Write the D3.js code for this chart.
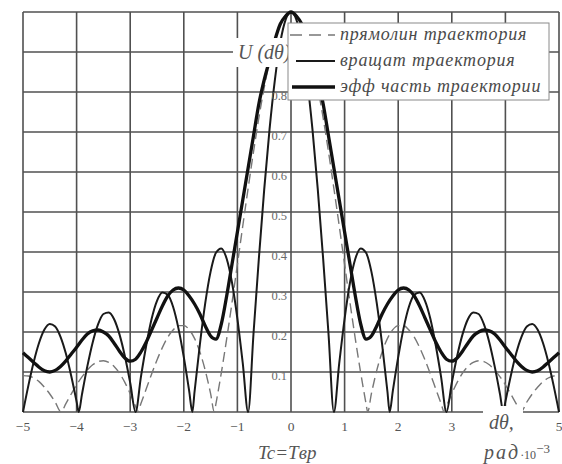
<!DOCTYPE html>
<html>
<head>
<meta charset="utf-8">
<script src="https://cdn.jsdelivr.net/npm/d3@7"></script>
<style>
  html, body { margin: 0; padding: 0; background: #fff; }
  svg { display: block; }
  .serif { font-family: "Liberation Serif", "DejaVu Serif", serif; }
</style>
</head>
<body>
<svg id="chart" width="562" height="464"></svg>
<script>
// Angular offset dθ, rad·10^-3
const straightX = [-5, -4.9, -4.8, -4.7, -4.6, -4.5, -4.4, -4.29, -4.2, -4.1, -4, -3.9, -3.8, -3.7, -3.6, -3.5, -3.4, -3.3, -3.2, -3.1, -3, -2.9, -2.86, -2.8, -2.7, -2.6, -2.5, -2.4, -2.3, -2.2, -2.1, -2, -1.9, -1.8, -1.7, -1.6, -1.5, -1.43, -1.4, -1.3, -1.2, -1.1, -1, -0.9, -0.8, -0.7, -0.6, -0.5, -0.4, -0.3, -0.2, -0.1, 0, 0.1, 0.2, 0.3, 0.4, 0.5, 0.6, 0.7, 0.8, 0.9, 1, 1.1, 1.2, 1.3, 1.4, 1.43, 1.5, 1.6, 1.7, 1.8, 1.9, 2, 2.1, 2.2, 2.3, 2.4, 2.5, 2.6, 2.7, 2.8, 2.86, 2.9, 3, 3.1, 3.2, 3.3, 3.4, 3.5, 3.6, 3.7, 3.8, 3.9, 4, 4.1, 4.2, 4.29, 4.4, 4.5, 4.6, 4.7, 4.8, 4.9, 5];
// U(dθ) — straight-line trajectory
const straightU = [0.091, 0.090, 0.085, 0.076, 0.062, 0.045, 0.025, 0, 0.021, 0.045, 0.068, 0.088, 0.105, 0.118, 0.126, 0.128, 0.124, 0.114, 0.097, 0.074, 0.046, 0.014, 0, 0.021, 0.058, 0.095, 0.130, 0.161, 0.187, 0.205, 0.216, 0.216, 0.206, 0.184, 0.150, 0.104, 0.046, 0, 0.021, 0.098, 0.183, 0.274, 0.369, 0.465, 0.559, 0.650, 0.735, 0.811, 0.876, 0.929, 0.968, 0.992, 1, 0.992, 0.968, 0.929, 0.876, 0.811, 0.735, 0.650, 0.559, 0.465, 0.369, 0.274, 0.183, 0.098, 0.021, 0, 0.046, 0.104, 0.150, 0.184, 0.206, 0.216, 0.216, 0.205, 0.187, 0.161, 0.130, 0.095, 0.058, 0.021, 0, 0.014, 0.046, 0.074, 0.097, 0.114, 0.124, 0.128, 0.126, 0.118, 0.105, 0.088, 0.068, 0.045, 0.021, 0, 0.025, 0.045, 0.062, 0.076, 0.085, 0.090, 0.091];

const rotatingX = [-5, -4.9, -4.8, -4.7, -4.6, -4.5, -4.4, -4.3, -4.2, -4.1, -4, -3.96, -3.9, -3.8, -3.7, -3.6, -3.5, -3.4, -3.3, -3.2, -3.1, -3, -2.9, -2.8, -2.7, -2.6, -2.5, -2.4, -2.3, -2.2, -2.1, -2, -1.9, -1.84, -1.8, -1.7, -1.6, -1.5, -1.4, -1.3, -1.2, -1.1, -1, -0.9, -0.8, -0.7, -0.6, -0.5, -0.4, -0.3, -0.2, -0.1, 0, 0.1, 0.2, 0.3, 0.4, 0.5, 0.6, 0.7, 0.8, 0.9, 1, 1.1, 1.2, 1.3, 1.4, 1.5, 1.6, 1.7, 1.8, 1.84, 1.9, 2, 2.1, 2.2, 2.3, 2.4, 2.5, 2.6, 2.7, 2.8, 2.9, 3, 3.1, 3.2, 3.3, 3.4, 3.5, 3.6, 3.7, 3.8, 3.9, 3.96, 4, 4.1, 4.2, 4.3, 4.4, 4.5, 4.6, 4.7, 4.8, 4.9, 5];
// U(dθ) — rotating trajectory
const rotatingU = [0, 0.066, 0.125, 0.173, 0.206, 0.220, 0.214, 0.188, 0.146, 0.090, 0.026, 0, 0.044, 0.114, 0.174, 0.219, 0.245, 0.249, 0.232, 0.194, 0.140, 0.073, 0, 0.088, 0.167, 0.233, 0.278, 0.299, 0.293, 0.263, 0.209, 0.137, 0.053, 0, 0.050, 0.169, 0.272, 0.351, 0.398, 0.409, 0.383, 0.323, 0.233, 0.122, 0, 0.195, 0.383, 0.556, 0.707, 0.831, 0.924, 0.981, 1, 0.981, 0.924, 0.831, 0.707, 0.556, 0.383, 0.195, 0, 0.122, 0.233, 0.323, 0.383, 0.409, 0.398, 0.351, 0.272, 0.169, 0.050, 0, 0.053, 0.137, 0.209, 0.263, 0.293, 0.299, 0.278, 0.233, 0.167, 0.088, 0, 0.073, 0.140, 0.194, 0.232, 0.249, 0.245, 0.219, 0.174, 0.114, 0.044, 0, 0.026, 0.090, 0.146, 0.188, 0.214, 0.220, 0.206, 0.173, 0.125, 0.066, 0];

const effectiveX = [-5, -4.9, -4.8, -4.7, -4.6, -4.5, -4.4, -4.3, -4.2, -4.1, -4, -3.9, -3.8, -3.7, -3.6, -3.5, -3.4, -3.3, -3.2, -3.1, -3, -2.9, -2.8, -2.7, -2.6, -2.5, -2.4, -2.3, -2.2, -2.1, -2, -1.9, -1.8, -1.7, -1.6, -1.5, -1.4, -1.3, -1.2, -1.1, -1, -0.9, -0.8, -0.7, -0.6, -0.5, -0.4, -0.3, -0.2, -0.1, 0, 0.1, 0.2, 0.3, 0.4, 0.5, 0.6, 0.7, 0.8, 0.9, 1, 1.1, 1.2, 1.3, 1.4, 1.5, 1.6, 1.7, 1.8, 1.9, 2, 2.1, 2.2, 2.3, 2.4, 2.5, 2.6, 2.7, 2.8, 2.9, 3, 3.1, 3.2, 3.3, 3.4, 3.5, 3.6, 3.7, 3.8, 3.9, 4, 4.1, 4.2, 4.3, 4.4, 4.5, 4.6, 4.7, 4.8, 4.9, 5];
// U(dθ) — effective part of the trajectory
const effectiveU = [0.148, 0.136, 0.124, 0.112, 0.103, 0.100, 0.104, 0.114, 0.128, 0.145, 0.162, 0.180, 0.195, 0.203, 0.205, 0.200, 0.190, 0.172, 0.152, 0.135, 0.127, 0.132, 0.150, 0.175, 0.205, 0.235, 0.265, 0.290, 0.305, 0.310, 0.305, 0.290, 0.270, 0.245, 0.215, 0.190, 0.182, 0.220, 0.290, 0.370, 0.450, 0.530, 0.610, 0.690, 0.770, 0.830, 0.880, 0.930, 0.970, 0.990, 1, 0.990, 0.970, 0.930, 0.880, 0.830, 0.770, 0.690, 0.610, 0.530, 0.450, 0.370, 0.290, 0.220, 0.182, 0.190, 0.215, 0.245, 0.270, 0.290, 0.305, 0.310, 0.305, 0.290, 0.265, 0.235, 0.205, 0.175, 0.150, 0.132, 0.127, 0.135, 0.152, 0.172, 0.190, 0.200, 0.205, 0.203, 0.195, 0.180, 0.162, 0.145, 0.128, 0.114, 0.104, 0.100, 0.103, 0.112, 0.124, 0.136, 0.148];

const xGrid = [-5, -4, -3, -2, -1, 0, 1, 2, 3, 4, 5];
const yGrid = [0, 0.1, 0.2, 0.3, 0.4, 0.5, 0.6, 0.7, 0.8, 0.9, 1];
// labelled ticks (4 and 0.9 sit under the axis titles)
const xTicks = [-5, -4, -3, -2, -1, 0, 1, 2, 3, 5];
const xTickLabels = ["−5", "−4", "−3", "−2", "−1", "0", "1", "2", "3", "5"];
const yTicks = [0.1, 0.2, 0.3, 0.4, 0.5, 0.6, 0.7, 0.8];
const yTickLabels = ["0.1", "0.2", "0.3", "0.4", "0.5", "0.6", "0.7", "0.8"];
const legendLabels = ["прямолин траектория", "вращат траектория", "эфф часть траектории"];

const svg = d3.select("#chart");
const x = d3.scaleLinear().domain([-5, 5]).range([23, 559]);
const y = d3.scaleLinear().domain([0, 1]).range([412, 12]);

const gridColor = "#505050";

// grid
const grid = svg.append("g");
grid.selectAll("line.v").data(xGrid).join("line")
  .attr("x1", d => x(d)).attr("x2", d => x(d))
  .attr("y1", y(0)).attr("y2", y(1))
  .attr("stroke", gridColor).attr("stroke-width", 1.6);
grid.selectAll("line.h").data(yGrid).join("line")
  .attr("x1", x(-5)).attr("x2", x(5))
  .attr("y1", d => y(d)).attr("y2", d => y(d))
  .attr("stroke", gridColor).attr("stroke-width", 1.6);

// curves
const line = d3.line().x(d => x(d[0])).y(d => y(d[1])).curve(d3.curveMonotoneX);
const series = [
  { xs: straightX, us: straightU, color: "#777", width: 1.4, dash: "10,5" },
  { xs: rotatingX, us: rotatingU, color: "#1a1a1a", width: 2, dash: null },
  { xs: effectiveX, us: effectiveU, color: "#111", width: 3.3, dash: null }
];
series.forEach(s => {
  svg.append("path")
    .datum(s.xs.map((v, i) => [v, s.us[i]]))
    .attr("d", line)
    .attr("fill", "none")
    .attr("stroke", s.color)
    .attr("stroke-width", s.width)
    .attr("stroke-linejoin", "round")
    .attr("stroke-dasharray", s.dash);
});

// tick labels
svg.append("g").selectAll("text").data(yTicks).join("text")
  .attr("class", "serif")
  .attr("x", 287).attr("y", d => y(d) + 8)
  .attr("text-anchor", "end")
  .attr("font-size", 12.5).attr("fill", "#6a6a6a")
  .text((d, i) => yTickLabels[i]);

svg.append("g").selectAll("text").data(xTicks).join("text")
  .attr("class", "serif")
  .attr("x", d => x(d)).attr("y", 431)
  .attr("text-anchor", "middle")
  .attr("font-size", 13.5).attr("fill", "#555")
  .text((d, i) => xTickLabels[i]);

// vertical axis title
svg.append("rect").attr("x", 233).attr("y", 38).attr("width", 57).attr("height", 29).attr("fill", "#fff");
svg.append("text").attr("class", "serif")
  .attr("x", 238).attr("y", 59)
  .attr("font-size", 20).attr("font-style", "italic").attr("fill", "#555")
  .text("U (dθ)");

// legend
const lg = svg.append("g");
lg.append("rect").attr("x", 288).attr("y", 23).attr("width", 261).attr("height", 77)
  .attr("fill", "#fff").attr("stroke", "#8a8a8a").attr("stroke-width", 1);
const rowY = [35, 61, 87];
const lineStart = [290, 296, 292];
legendLabels.forEach((t, i) => {
  const s = series[i];
  lg.append("line")
    .attr("x1", lineStart[i]).attr("x2", 335).attr("y1", rowY[i]).attr("y2", rowY[i])
    .attr("stroke", s.color).attr("stroke-width", s.width)
    .attr("stroke-dasharray", s.dash ? "12,7" : null);
  lg.append("text").attr("class", "serif")
    .attr("x", 340).attr("y", rowY[i] + 5)
    .attr("font-size", 18).attr("font-style", "italic").attr("letter-spacing", 0.8).attr("fill", "#4a4a4a")
    .text(t);
});

// horizontal axis title
svg.append("rect").attr("x", 483).attr("y", 406).attr("width", 40).attr("height", 28).attr("fill", "#fff");
svg.append("text").attr("class", "serif")
  .attr("x", 489).attr("y", 429)
  .attr("font-size", 20).attr("font-style", "italic").attr("fill", "#555")
  .text("dθ,");
const unit = svg.append("text").attr("class", "serif")
  .attr("x", 484).attr("y", 459).attr("fill", "#555");
unit.append("tspan").attr("font-size", 20).attr("font-style", "italic").attr("letter-spacing", 2).text("рад");
unit.append("tspan").attr("font-size", 12).text("·10");
unit.append("tspan").attr("font-size", 13).attr("dy", -6).text("−3");

svg.append("text").attr("class", "serif")
  .attr("x", 258).attr("y", 459)
  .attr("font-size", 19).attr("font-style", "italic").attr("fill", "#555")
  .text("Tc=Tвр");
</script>
</body>
</html>
